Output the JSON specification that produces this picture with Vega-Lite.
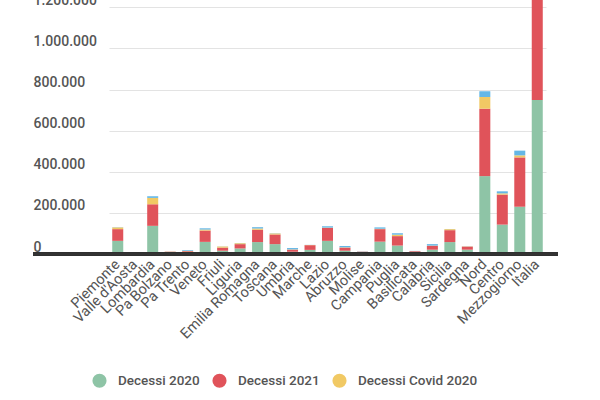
{
  "$schema": "https://vega.github.io/schema/vega-lite/v6.json",
  "autosize": {"type": "none"},
  "width": 525,
  "height": 254,
  "padding": {"left": 33, "top": 0, "right": 42, "bottom": 146},
  "background": "#ffffff",
  "config": {
    "locale": {"number": {"decimal": ",", "thousands": ".", "grouping": [3], "currency": ["€", ""]}},
    "view": {"stroke": null},
    "font": "Roboto"
  },
  "data": {
    "values": [
      {"regione": "Piemonte", "Decessi 2020": 64000, "Decessi 2021": 57000, "Decessi Covid 2020": 8500, "Decessi Covid 2021": 1000},
      {"regione": "Valle d'Aosta", "Decessi 2020": 1700, "Decessi 2021": 1500, "Decessi Covid 2020": 400, "Decessi Covid 2021": 100},
      {"regione": "Lombardia", "Decessi 2020": 137000, "Decessi 2021": 105000, "Decessi Covid 2020": 31000, "Decessi Covid 2021": 8000},
      {"regione": "Pa Bolzano", "Decessi 2020": 5000, "Decessi 2021": 6000, "Decessi Covid 2020": 900, "Decessi Covid 2021": 400},
      {"regione": "Pa Trento", "Decessi 2020": 6000, "Decessi 2021": 7500, "Decessi Covid 2020": 1500, "Decessi Covid 2021": 3500},
      {"regione": "Veneto", "Decessi 2020": 59000, "Decessi 2021": 55000, "Decessi Covid 2020": 5000, "Decessi Covid 2021": 6000},
      {"regione": "Friuli", "Decessi 2020": 16000, "Decessi 2021": 15000, "Decessi Covid 2020": 5500, "Decessi Covid 2021": 500},
      {"regione": "Liguria", "Decessi 2020": 27000, "Decessi 2021": 21000, "Decessi Covid 2020": 4500, "Decessi Covid 2021": 700},
      {"regione": "Emilia Romagna", "Decessi 2020": 58000, "Decessi 2021": 60000, "Decessi Covid 2020": 6000, "Decessi Covid 2021": 6500},
      {"regione": "Toscana", "Decessi 2020": 48000, "Decessi 2021": 47000, "Decessi Covid 2020": 5000, "Decessi Covid 2021": 1000},
      {"regione": "Umbria", "Decessi 2020": 11000, "Decessi 2021": 10000, "Decessi Covid 2020": 1500, "Decessi Covid 2021": 6500},
      {"regione": "Marche", "Decessi 2020": 20000, "Decessi 2021": 23000, "Decessi Covid 2020": 1000, "Decessi Covid 2021": 500},
      {"regione": "Lazio", "Decessi 2020": 64000, "Decessi 2021": 63000, "Decessi Covid 2020": 1500, "Decessi Covid 2021": 6500},
      {"regione": "Abruzzo", "Decessi 2020": 16000, "Decessi 2021": 15000, "Decessi Covid 2020": 1500, "Decessi Covid 2021": 6500},
      {"regione": "Molise", "Decessi 2020": 4500, "Decessi 2021": 6500, "Decessi Covid 2020": 500, "Decessi Covid 2021": 1000},
      {"regione": "Campania", "Decessi 2020": 60000, "Decessi 2021": 61000, "Decessi Covid 2020": 2000, "Decessi Covid 2021": 6500},
      {"regione": "Puglia", "Decessi 2020": 41000, "Decessi 2021": 46000, "Decessi Covid 2020": 7000, "Decessi Covid 2021": 7000},
      {"regione": "Basilicata", "Decessi 2020": 6500, "Decessi 2021": 7000, "Decessi Covid 2020": 500, "Decessi Covid 2021": 1000},
      {"regione": "Calabria", "Decessi 2020": 21000, "Decessi 2021": 19000, "Decessi Covid 2020": 1000, "Decessi Covid 2021": 7000},
      {"regione": "Sicilia", "Decessi 2020": 58000, "Decessi 2021": 58000, "Decessi Covid 2020": 5000, "Decessi Covid 2021": 500},
      {"regione": "Sardegna", "Decessi 2020": 21000, "Decessi 2021": 15000, "Decessi Covid 2020": 1000, "Decessi Covid 2021": 500},
      {"regione": "Nord", "Decessi 2020": 379000, "Decessi 2021": 328000, "Decessi Covid 2020": 57000, "Decessi Covid 2021": 28000},
      {"regione": "Centro", "Decessi 2020": 143000, "Decessi 2021": 146000, "Decessi Covid 2020": 6000, "Decessi Covid 2021": 10000},
      {"regione": "Mezzogiorno", "Decessi 2020": 230000, "Decessi 2021": 240000, "Decessi Covid 2020": 10000, "Decessi Covid 2021": 23000},
      {"regione": "Italia", "Decessi 2020": 749000, "Decessi 2021": 714000, "Decessi Covid 2020": 73000, "Decessi Covid 2021": 61000}
    ]
  },
  "layer": [
    {
      "transform": [
        {"fold": ["Decessi 2020", "Decessi 2021", "Decessi Covid 2020", "Decessi Covid 2021"], "as": ["serie", "valore"]}
      ],
      "mark": {"type": "bar", "clip": true},
      "encoding": {
        "x": {
          "field": "regione",
          "type": "nominal",
          "sort": null,
          "scale": {"range": [76, 513], "paddingInner": 0.37, "paddingOuter": 0.185},
          "axis": {
            "title": null,
            "domain": false,
            "ticks": false,
            "labelAngle": -45,
            "labelAlign": "right",
            "labelBaseline": "middle",
            "labelFontSize": 14.5,
            "labelColor": "#555555",
            "labelFont": "Roboto",
            "labelPadding": 8
          }
        },
        "y": {
          "field": "valore",
          "type": "quantitative",
          "stack": "zero",
          "scale": {"domain": [0, 1236000], "nice": false},
          "axis": {
            "title": null,
            "domain": false,
            "ticks": false,
            "values": [0, 200000, 400000, 600000, 800000, 1000000, 1200000],
            "format": ",d",
            "labelAlign": "left",
            "labelBaseline": "alphabetic",
            "labelOffset": -3,
            "labelPadding": 0,
            "labelFontSize": 14,
            "labelFont": "Roboto",
            "labelFontWeight": 500,
            "labelColor": "#555555",
            "gridColor": "#e3e3e3",
            "gridWidth": 1
          }
        },
        "color": {
          "field": "serie",
          "type": "nominal",
          "scale": {
            "domain": ["Decessi 2020", "Decessi 2021", "Decessi Covid 2020", "Decessi Covid 2021"],
            "range": ["#8ec4a6", "#e0535a", "#f1c964", "#64b7e6"]
          },
          "legend": {
            "title": null,
            "values": ["Decessi 2020", "Decessi 2021", "Decessi Covid 2020"],
            "orient": "none",
            "direction": "horizontal",
            "legendX": 59,
            "legendY": 373,
            "padding": 0,
            "symbolType": "circle",
            "symbolSize": 200,
            "symbolStrokeWidth": 0,
            "labelFontSize": 13.5,
            "labelFont": "Roboto",
            "labelFontWeight": 500,
            "labelColor": "#555555",
            "labelOffset": 11,
            "columnPadding": 12
          }
        },
        "order": {"field": "serie", "sort": "ascending"}
      }
    },
    {
      "mark": {"type": "rule", "color": "#333333", "strokeWidth": 2.5},
      "encoding": {"y": {"datum": 0}}
    }
  ]
}
